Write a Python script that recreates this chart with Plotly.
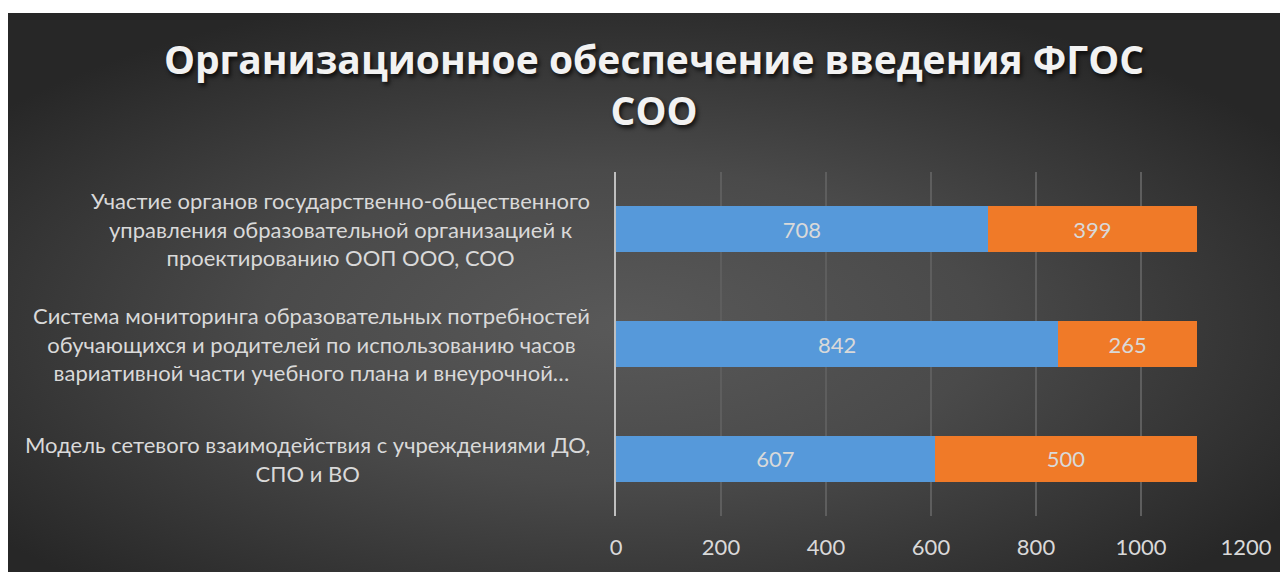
import base64
import plotly.graph_objects as go

# ---- data ----
categories = [
    "Участие органов государственно-общественного<br>управления образовательной организацией к<br>проектированию ООП ООО, СОО",
    "Система мониторинга образовательных потребностей<br>обучающихся и родителей по использованию часов<br>вариативной части учебного плана и внеурочной…",
    "Модель сетевого взаимодействия с учреждениями ДО,<br>СПО и ВО",
]
series_a = [708, 842, 607]
series_b = [399, 265, 500]
x_ticks = [0, 200, 400, 600, 800, 1000, 1200]
title_text = "Организационное обеспечение введения ФГОС<br>СОО"

# ---- geometry (page has an 8px body margin) ----
W, H = 1280, 564
ML, MR, MT, MB = 608, 42, 164, 56
PW, PH = W - ML - MR, H - MT - MB
TOP_WHITE = 5

LABEL_FONT = "Lato, 'Noto Sans', sans-serif"
TXT = "#d9d9d9"

svg = f"""<svg xmlns='http://www.w3.org/2000/svg' width='{W}' height='{H-TOP_WHITE}' viewBox='0 0 100 100' preserveAspectRatio='none'>
<defs><radialGradient id='g' cx='0.48' cy='0.56' r='0.62' gradientUnits='objectBoundingBox'>
<stop offset='0' stop-color='#595959'/><stop offset='0.45' stop-color='#4a4a4a'/><stop offset='1' stop-color='#272727'/>
</radialGradient></defs><rect x='0' y='0' width='100' height='100' fill='url(#g)'/></svg>"""
bg_uri = "data:image/svg+xml;base64," + base64.b64encode(svg.encode()).decode()

fig = go.Figure()
fig.add_trace(go.Bar(
    y=categories, x=series_a, orientation="h",
    marker=dict(color="#5699da", line=dict(width=0)),
    text=series_a, textposition="inside", insidetextanchor="middle", textangle=0,
    textfont=dict(family=LABEL_FONT, size=22, color=TXT), hoverinfo="x",
))
fig.add_trace(go.Bar(
    y=categories, x=series_b, orientation="h",
    marker=dict(color="#f07a28", line=dict(width=0)),
    text=series_b, textposition="inside", insidetextanchor="middle", textangle=0,
    textfont=dict(family=LABEL_FONT, size=22, color=TXT), hoverinfo="x",
))

annotations = []
for cat in categories:
    annotations.append(dict(
        x=-24 / PW, xref="paper", xanchor="right",
        y=cat, yref="y", yanchor="middle",
        text=cat, showarrow=False, align="center",
        font=dict(family=LABEL_FONT, size=22, color=TXT),
    ))

fig.update_layout(
    width=W, height=H, autosize=False,
    margin=dict(l=ML, r=MR, t=MT, b=MB, pad=0),
    paper_bgcolor="#ffffff", plot_bgcolor="rgba(0,0,0,0)",
    barmode="stack", bargap=0.6, showlegend=False,
    title=dict(
        text=title_text, x=646 / W, xanchor="center", xref="container",
        y=1 - 66 / H, yanchor="top", yref="container",
        font=dict(family="Open Sans", size=39, weight="bold", color="#f2f2f2",
                  shadow="2px 3px 4px rgba(0,0,0,0.75)"),
    ),
    xaxis=dict(
        range=[0, 1200], tickvals=x_ticks, ticktext=[str(t) for t in x_ticks],
        showgrid=True, gridcolor="#5e5e5e", gridwidth=1.5, zeroline=False,
        showline=False, ticks="", ticklabelstandoff=16,
        tickfont=dict(family=LABEL_FONT, size=22, color=TXT), fixedrange=True,
    ),
    yaxis=dict(
        categoryorder="array", categoryarray=categories, autorange="reversed",
        showticklabels=False, showgrid=False, zeroline=False,
        showline=True, linecolor="#bfbfbf", linewidth=2, ticks="", fixedrange=True,
    ),
    annotations=annotations,
    images=[dict(
        source=bg_uri, xref="paper", yref="paper",
        x=-ML / PW, y=(H - MB - TOP_WHITE) / PH,
        sizex=W / PW, sizey=(H - TOP_WHITE) / PH,
        xanchor="left", yanchor="top", sizing="stretch", layer="below",
    )],
)

fig.write_html("out.html")
